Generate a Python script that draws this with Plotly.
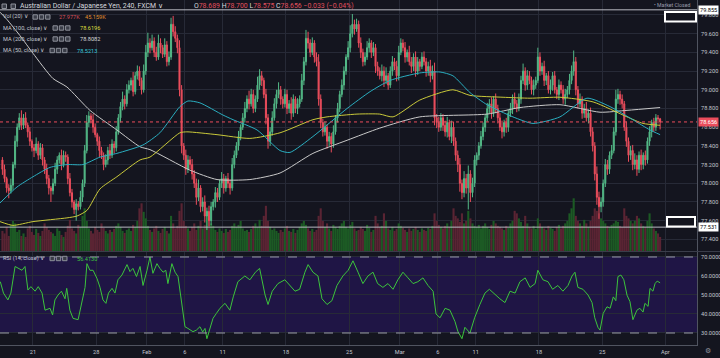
import plotly.graph_objects as go

# ---------------- data ----------------
CLOSE = [
 78.15, 78.05, 77.95, 77.92, 77.98, 78.20, 78.45, 78.60, 78.70, 78.62,
 78.70, 78.62, 78.55, 78.45, 78.38, 78.35, 78.42, 78.30, 78.38, 78.25,
 78.15, 78.05, 77.95, 77.92, 78.00, 78.15, 78.25, 78.30, 78.20, 78.30,
 78.28, 78.05, 77.90, 77.80, 77.72, 77.78, 77.75, 77.85, 78.00, 78.35,
 78.65, 78.72, 78.68, 78.60, 78.52, 78.45, 78.35, 78.30, 78.20, 78.25,
 78.35, 78.30, 78.42, 78.38, 78.55, 78.70, 78.82, 78.90, 78.85, 79.00,
 79.05, 79.10, 78.98, 79.15, 79.20, 79.10, 79.00, 79.20, 79.40, 79.50,
 79.45, 79.52, 79.40, 79.35, 79.50, 79.45, 79.38, 79.48, 79.30, 79.35,
 79.70, 79.62, 79.55, 79.45, 79.00, 78.40, 78.30, 78.15, 78.25, 78.20,
 78.10, 78.00, 77.85, 77.95, 77.75, 77.80, 77.65, 77.70, 77.60, 77.75,
 77.80, 77.90, 77.85, 78.00, 78.05, 77.95, 78.05, 78.00, 77.95, 78.20,
 78.30, 78.40, 78.50, 78.60, 78.70, 78.80, 78.90, 78.85, 78.95, 78.80,
 78.90, 79.05, 79.15, 79.10, 78.95, 78.70, 78.45, 78.55, 78.70, 78.85,
 78.95, 79.00, 78.90, 78.85, 78.95, 78.80, 78.85, 78.75, 78.90, 78.80,
 78.85, 78.90, 79.10, 79.30, 79.55, 79.50, 79.40, 79.50, 79.35, 79.30,
 78.90, 78.65, 78.55, 78.60, 78.45, 78.50, 78.42, 78.55, 78.70, 78.80,
 78.95, 79.05, 79.20, 79.35, 79.45, 79.60, 79.70, 79.65, 79.70, 79.50,
 79.40, 79.30, 79.35, 79.45, 79.50, 79.40, 79.45, 79.25, 79.20, 79.15,
 79.20, 79.10, 79.15, 79.05, 79.20, 79.30, 79.25, 79.15, 79.40, 79.50,
 79.45, 79.35, 79.40, 79.30, 79.25, 79.35, 79.20, 79.30, 79.25, 79.35,
 79.30, 79.20, 79.25, 79.15, 79.20, 78.70, 78.65, 78.60, 78.70, 78.62,
 78.55, 78.65, 78.50, 78.60, 78.45, 78.30, 78.20, 78.00, 77.90, 78.05,
 77.95, 78.10, 77.90, 78.00, 78.25, 78.30, 78.40, 78.50, 78.60, 78.70,
 78.80, 78.85, 78.75, 78.90, 78.80, 78.70, 78.60, 78.55, 78.65, 78.60,
 78.75, 78.80, 78.90, 78.85, 78.80, 78.90, 79.10, 79.20, 79.05, 79.15,
 79.10, 79.00, 79.05, 79.10, 79.35, 79.20, 79.25, 79.10, 79.15, 79.00,
 79.05, 79.15, 79.00, 78.95, 79.05, 79.00, 78.90, 78.95, 79.00, 79.10,
 79.20, 79.30, 79.00, 78.85, 78.90, 78.75, 78.80, 78.70, 78.75, 78.55,
 78.40, 78.10, 77.85, 77.75, 77.80, 78.00, 78.20, 78.15, 78.30, 78.35,
 78.55, 78.90, 78.95, 78.90, 78.85, 78.60, 78.45, 78.30, 78.35, 78.20,
 78.25, 78.15, 78.30, 78.20, 78.30, 78.25, 78.45, 78.55, 78.65, 78.60,
 78.70, 78.689, 78.656]
FIRST_OPEN = 78.25

WICK_UP = [  # hundredths of a yen above the body
 3,5,2,4,7,3,6,4,5,8, 4,6,3,5,2,4,7,3,5,4, 3,6,4,2,5,7,4,3,6,5, 4,3,6,4,2,5,3,7,4,6,
 8,5,3,6,4,2,5,4,3,6, 4,7,5,3,6,4,5,8,4,6, 5,3,9,4,6,5,3,7,8,11, 5,7,4,6,9,5,3,7,4,6,
 7,9,6,4,8,5,3,6,5,4, 6,4,5,9,3,5,7,4,6,5, 3,6,5,4,7,5,3,6,4,7, 5,4,6,3,5,7,4,9,6,5,
 4,9,7,5,3,6,4,5,7,6, 5,8,4,3,6,5,4,7,5,3, 6,4,7,5,9,7,4,6,3,5, 8,5,4,6,3,5,4,7,3,6,
 4,6,5,3,7,9,11,5,6,4, 6,4,5,7,5,3,6,4,5,4, 7,5,9,3,5,6,4,6,7,5, 4,6,3,7,5,4,6,5,3,5,
 6,4,5,7,6,9,4,6,5,4, 5,6,3,7,6,4,5,7,4,8, 5,9,4,6,5,3,4,6,5,4, 6,5,7,3,6,4,5,7,3,5,
 4,6,5,7,4,6,5,8,4,6, 5,4,6,4,10,5,4,6,3,5, 6,4,5,3,6,4,5,6,4,7, 6,12,5,4,6,3,5,7,4,6,
 5,4,8,6,5,4,6,5,4,6, 5,10,6,4,5,3,6,4,5,6, 7,5,4,6,3,5,4,6,3,5, 4,3,1]
WICK_DOWN = [  # hundredths of a yen below the body
 6,4,5,8,3,5,4,6,3,5, 4,3,6,5,4,7,3,5,4,6, 5,6,7,12,4,3,5,4,6,3, 5,6,4,6,5,12,4,3,5,4,
 3,5,4,6,3,5,7,4,6,3, 5,4,3,6,4,3,5,4,6,3, 4,6,5,3,4,6,5,3,4,5, 6,3,5,4,3,6,4,3,5,4,
 3,5,4,6,7,8,5,6,4,5, 6,5,8,4,6,5,7,15,6,5, 4,6,5,3,5,6,4,5,7,3, 4,3,5,4,3,5,4,6,3,5,
 4,3,5,6,4,7,8,5,4,3, 5,4,6,5,4,6,5,7,4,5, 6,4,3,5,4,6,5,3,6,5, 7,6,5,4,8,5,9,4,3,5,
 4,3,5,4,3,5,4,6,3,5, 6,5,4,3,5,6,4,7,5,4, 6,7,4,5,3,5,4,6,5,3, 4,6,5,4,7,5,6,4,5,3,
 4,6,5,7,4,8,6,5,4,6, 5,6,4,7,5,6,8,9,7,5, 6,23,10,5,4,6,5,3,4,5, 4,5,6,4,5,6,4,7,5,6,
 5,4,6,5,4,3,5,4,6,5, 4,5,6,4,3,5,4,6,5,4, 5,6,4,5,6,4,5,6,4,5, 4,5,6,5,4,6,5,4,6,5,
 6,7,8,13,6,5,4,6,5,4, 3,4,5,6,5,4,6,7,5,6, 5,7,4,6,5,6,4,5,6,5, 4,5,8]

VOLUME_K = [
 40,35,48,30,52,60,55,38,42,30, 35,28,45,50,38,32,44,36,30,40, 55,48,42,38,35,30,45,40,32,28,
 38,50,62,45,40,35,52,48,70,85, 60,45,40,35,48,42,38,55,46,40, 35,42,38,44,50,55,48,40,36,42,
 45,40,52,48,60,85,95,78,65,50, 42,38,45,50,40,36,44,48,40,35, 70,55,45,50,80,95,60,50,45,40,
 48,55,42,50,60,45,52,80,65,55, 50,42,38,45,40,36,44,38,42,50, 55,48,52,60,45,40,42,38,44,50,
 55,48,62,50,70,90,60,48,42,45, 40,36,42,38,45,50,40,38,44,36, 42,48,55,60,52,45,40,44,38,42,
 70,85,60,48,55,45,40,52,48,44, 50,55,60,48,45,52,58,45,40,42, 48,44,40,52,46,38,42,70,55,48,
 50,75,60,45,42,48,40,44,55,50, 46,42,38,45,40,44,48,42,38,45, 42,40,46,44,50,75,60,52,48,45,
 50,55,48,60,85,70,65,58,75,55, 60,80,65,55,50,48,52,45,50,55, 48,44,52,60,55,50,48,45,42,50,
 46,55,60,80,75,65,58,50,70,55, 48,45,50,44,65,55,48,45,42,50, 46,44,40,48,52,45,50,55,60,75,
 85,105,70,60,55,50,62,55,48,60, 70,85,80,75,65,60,55,50,48,52, 55,60,58,50,48,85,70,65,60,55,
 60,70,65,55,50,48,60,75,55,45, 40,35,28]

# moving averages, (bar index, value)
MA200_PTS = [(-1.15,79.83),(2.2,79.75),(8.3,79.58),(14.5,79.39),(24,79.12),(30.6,79.03),(41.5,78.78),
             (54.3,78.57),(65.3,78.39),(70,78.36),(89,78.14),(101.8,78.04),(117.4,78.04),(131.7,78.11),
             (147.3,78.32),(163.5,78.46),(179,78.59),(198,78.71),(229.9,78.74),(245.5,78.81),
             (264.5,78.84),(283.5,78.76),(296.3,78.78),(312,78.81)]
MA100_PTS = [(-1.15,77.59),(5,77.55),(14.5,77.59),(30.6,77.63),(35.4,77.65),(40.1,77.71),(46.3,77.94),
             (54.3,78.07),(65.3,78.25),(70,78.28),(84.2,78.54),(87.5,78.55),(101.8,78.52),(117.4,78.48),
             (131.7,78.54),(147.3,78.68),(154,78.71),(168.2,78.74),(179,78.74),(185.3,78.71),(198,78.89),
             (213.7,79.0),(221.8,78.94),(237.5,78.92),(250.3,78.91),(264.5,78.92),(280.2,78.87),
             (296.3,78.71),(303.9,78.64),(312,78.62)]
MA50_PTS = [(-1.15,77.79),(6.9,77.96),(14.5,78.07),(22.6,78.17),(30.6,78.2),(38.2,78.2),(46.3,78.28),
            (54.3,78.32),(66.7,78.41),(74.7,78.54),(84.2,78.82),(88,78.88),(93.7,78.86),(104.6,78.73),
            (109.4,78.68),(120.8,78.57),(131.7,78.35),(136.4,78.33),(147.3,78.5),(163.5,78.8),
            (174.4,78.98),(183.9,79.1),(198,79.18),(207.6,79.19),(213.7,79.15),(221.8,78.97),
            (229.9,78.84),(242.2,78.71),(251.7,78.64),(264.5,78.71),(277.3,78.91),(288.2,78.82),
            (299.1,78.68),(307.2,78.57),(312,78.52)]

RSI_PTS = [(-1,57),(0.5,51),(2.6,47.4),(4,51),(6,65),(7.5,64),(9.3,63),(10.7,65),(12.1,52.6),(13.5,54.4),
 (15.5,52),(17,54.4),(18.8,51),(20.2,42),(22.6,43),(23.8,39.5),(24.9,47.4),(26.4,50),(28,52),(29.7,48),
 (30.5,53.5),(32,42),(33.5,37.7),(35.9,37),(37.7,45.6),(39.2,54),(40.1,66.5),(41.5,63),(43,63),(44.9,58.6),
 (46.3,54),(47.7,47.4),(49.1,45.6),(50.3,51),(52,53.5),(53.4,51),(54.8,58),(56.7,60.5),(59.1,66),(60.5,62.3),
 (61.9,64),(63.6,59.7),(65.3,65),(66.7,55),(68.6,63),(70,70),(71.4,61.4),(73.3,66.5),(74.7,64),(76.2,62),
 (77.5,63),(78.5,56),(80.4,66.5),(81.9,62),(83.3,59.7),(85.2,45.6),(86.6,33.3),(88,32.4),(90.4,30.7),(92,31.5),
 (93.7,33.3),(95,30.5),(96.1,32.4),(97,27),(98.5,32.4),(99.9,37.7),(101.5,40.3),(103.2,43),(105.6,45.6),
 (107.9,42),(109.5,49),(111.7,57),(115,60),(117.4,58),(120,62),(122,64),(124.6,50),(126,45),(128,52),
 (130.7,56),(134,58),(136.4,55),(138.8,52),(141,53),(143.5,62),(145,66),(147.3,62),(149.7,60),(151.6,48),
 (154,45),(156.3,47),(158.7,55),(161.5,60),(164,63),(166.3,68),(168.7,62),(171,56),(173.4,60),(175.8,62),
 (178,56),(180.5,54),(182.9,56),(185.3,53),(187.6,58),(190,62),(192.4,59),(194.8,56),(197.1,57),(199.5,59),
 (201.9,55),(204.3,52),(205.7,40),(207.6,38),(210,43),(212.3,42),(214.7,36),(216,31),(218,27),(219.4,33),
 (221.8,30),(224,38),(226.5,45),(228.9,51),(231,53),(233.7,50),(236,48),(238.4,46),(240.8,52),(243.2,51),
 (245.5,57),(248,59),(250.3,54),(252.7,56),(254,63),(256.4,58),(258.8,57),(261,53),(263.5,55),(265.9,52),
 (268.3,55),(270.2,60),(271.6,62),(273,54),(275.4,53),(277.8,50),(279.7,46),(281,38),(282.5,33),(283.5,31.5),
 (285,40.3),(286.8,43.8),(288.3,43),(289.8,49),(291,47),(292,59.7),(293.4,60.5),(294.8,58),(296.3,49.9),
 (297.7,46.5),(299.1,37),(301,42),(302.4,43),(303.9,41),(304.8,45.6),(306.3,44),(307.2,53.5),(308.6,52),
 (309.6,56),(310.6,57.3),(311.6,56.4),(312,56.4)]

TICK_BARS = [14.5, 44.5, 68.5, 86.5, 104.5, 134.5, 164.5, 188.5, 206.5, 224.5, 254.5, 284.5, 314.5]
TICK_LABELS = ["21", "28", "Feb", "6", "11", "18", "25", "Mar", "6", "11", "18", "25", "Apr"]
PRICE_TICKS = [77.4, 77.6, 77.8, 78.0, 78.2, 78.4, 78.6, 78.8, 79.0, 79.2, 79.4, 79.6, 79.8]
RSI_TICKS = [30, 40, 50, 60, 70]
LAST_PRICE = 78.656
HLINE_TOP = 79.855
HLINE_BOTTOM = 77.531

assert len(CLOSE) == len(WICK_UP) == len(WICK_DOWN) == len(VOLUME_K), (len(CLOSE), len(WICK_UP), len(WICK_DOWN), len(VOLUME_K))

# ---------------- derived OHLC ----------------
n = len(CLOSE)
bars = list(range(n))
OPEN = [FIRST_OPEN] + CLOSE[:-1]
HIGH = [max(o, c) + u / 100 for o, c, u in zip(OPEN, CLOSE, WICK_UP)]
LOW = [min(o, c) - d / 100 for o, c, d in zip(OPEN, CLOSE, WICK_DOWN)]

# ---------------- style ----------------
BG = "#14151f"
GRID = "#272a37"
TXT = "#c3c6ce"
GREEN = "#53b987"
RED = "#eb4d5c"
VGREEN = "#1c5a24"
VRED = "#5a2433"
YEL = "#c9c93a"
WHT = "#c9c9c9"
CYAN = "#2aaec0"
PURPLE = "#1f1545"
FONT = "Roboto"
AX = 5.6     # axis label size
LG = 5.6     # legend text size

W_PLOT, H_PLOT = 697.0, 345.0
def px(x):
    return x / W_PLOT
def py(y):
    return (H_PLOT - y) / H_PLOT

fig = go.Figure()

vol_colors = [VGREEN if c >= o else VRED for o, c in zip(OPEN, CLOSE)]
fig.add_trace(go.Bar(x=bars, y=VOLUME_K, marker=dict(color=vol_colors, line=dict(width=0)),
                     width=1.0, xaxis="x", yaxis="y", hoverinfo="skip"))

fig.add_trace(go.Candlestick(x=bars, open=OPEN, high=HIGH, low=LOW, close=CLOSE,
                             increasing=dict(line=dict(color=GREEN, width=1), fillcolor=GREEN),
                             decreasing=dict(line=dict(color=RED, width=1), fillcolor=RED),
                             whiskerwidth=0, xaxis="x", yaxis="y3", hoverinfo="skip"))

for pts, col in [(MA200_PTS, WHT), (MA100_PTS, YEL), (MA50_PTS, CYAN)]:
    fig.add_trace(go.Scatter(x=[p[0] for p in pts], y=[p[1] for p in pts], mode="lines",
                             line=dict(color=col, width=1, shape="spline", smoothing=0.6),
                             xaxis="x", yaxis="y3", hoverinfo="skip"))

fig.add_trace(go.Scatter(x=[p[0] for p in RSI_PTS], y=[p[1] for p in RSI_PTS], mode="lines",
                         line=dict(color="#3cc43c", width=1), xaxis="x2", yaxis="y2", hoverinfo="skip"))

XR = [-1.15, 329.5]
MAIN_DOM = [0.2725, 1.0]
RSI_DOM = [0.0, 0.2696]

fig.update_layout(
    width=720, height=358, margin=dict(l=0, r=23, t=0, b=13),
    paper_bgcolor=BG, plot_bgcolor=BG, showlegend=False, hovermode=False,
    font=dict(family=FONT, size=7, color=TXT),
    xaxis=dict(domain=[0, 1], range=XR, anchor="y", tickvals=TICK_BARS, showticklabels=False,
               showgrid=True, gridcolor=GRID, gridwidth=1, zeroline=False, rangeslider=dict(visible=False),
               ticks=""),
    yaxis=dict(domain=MAIN_DOM, range=[0, 500], visible=False, showgrid=False, zeroline=False),
    yaxis3=dict(overlaying="y", anchor="x", side="right", range=[77.276, 79.96], tickvals=PRICE_TICKS,
                ticktext=["%.3f" % v for v in PRICE_TICKS], showgrid=True, gridcolor=GRID, zeroline=False,
                showline=True, linecolor="#505460", ticks="", ticklabelstandoff=2,
                tickfont=dict(size=AX, color=TXT)),
    xaxis2=dict(domain=[0, 1], range=XR, anchor="y2", tickvals=TICK_BARS, ticktext=TICK_LABELS,
                showgrid=True, gridcolor=GRID, zeroline=False, showline=True, linecolor="#505460",
                ticks="", ticklabelstandoff=1, tickfont=dict(size=AX, color=TXT)),
    yaxis2=dict(domain=RSI_DOM, range=[23.68, 72.63], side="right", tickvals=RSI_TICKS,
                ticktext=["%.4f" % v for v in RSI_TICKS], showgrid=True, gridcolor=GRID, zeroline=False,
                showline=True, linecolor="#505460", ticks="", ticklabelstandoff=2,
                tickfont=dict(size=AX, color=TXT)),
)

shapes = []
# RSI band and 30/70 dashed lines
shapes.append(dict(type="rect", xref="x2", yref="y2", x0=XR[0], x1=XR[1], y0=30, y1=70,
                   fillcolor=PURPLE, line=dict(width=0), layer="below"))
for lv in (30, 70):
    shapes.append(dict(type="line", xref="x2", yref="y2", x0=XR[0], x1=XR[1], y0=lv, y1=lv,
                       line=dict(color="#9a9cab", width=1, dash="dash")))
# pane separator
shapes.append(dict(type="line", xref="paper", yref="paper", x0=0, x1=720 / W_PLOT, y0=py(251.5), y1=py(251.5),
                   line=dict(color="#3a3d4a", width=1)))
# horizontal lines
shapes.append(dict(type="line", xref="x", yref="y3", x0=XR[0], x1=XR[1], y0=LAST_PRICE, y1=LAST_PRICE,
                   line=dict(color=RED, width=1, dash="dot")))
for lv in (HLINE_TOP, HLINE_BOTTOM):
    shapes.append(dict(type="line", xref="x", yref="y3", x0=XR[0], x1=XR[1], y0=lv, y1=lv,
                       line=dict(color="#b8bac2", width=1)))
# drawn boxes near right edge
for (x0, y0, x1, y1) in [(665, 12, 696, 21.5), (667, 217, 695, 226.5)]:
    shapes.append(dict(type="rect", xref="paper", yref="paper", x0=px(x0), x1=px(x1), y0=py(y1), y1=py(y0),
                       line=dict(color="#ffffff", width=2), fillcolor=BG))

# small legend icons
def icons(x_start, y_c, step=6.3, n_ic=3, size=4.4):
    out = []
    for k in range(n_ic):
        x0 = x_start + k * step
        out.append(dict(type="rect", xref="paper", yref="paper", x0=px(x0), x1=px(x0 + size),
                        y0=py(y_c + size / 2), y1=py(y_c - size / 2),
                        line=dict(color="#8d909a", width=1), fillcolor="#3a3d48"))
    return out
shapes += icons(33, 17)
shapes += icons(53, 28)
shapes += icons(53, 39)
shapes += icons(50, 50.5)
shapes += icons(50, 258.5)
# header symbol icons
shapes.append(dict(type="rect", xref="paper", yref="paper", x0=px(2), x1=px(6.5), y0=py(8.5), y1=py(4),
                   line=dict(color="#8d909a", width=1), fillcolor="#3a3d48"))
shapes.append(dict(type="rect", xref="paper", yref="paper", x0=px(11), x1=px(15.5), y0=py(8.5), y1=py(4),
                   line=dict(color="#8d909a", width=1), fillcolor="#3a3d48"))
fig.update_layout(shapes=shapes)

ann = []
def txt(x, y, s, color=TXT, size=LG, xanchor="left", **kw):
    ann.append(dict(xref="paper", yref="paper", x=px(x), y=py(y), text=s, showarrow=False,
                    xanchor=xanchor, yanchor="middle", font=dict(family=FONT, size=size, color=color), **kw))

txt(18, 6, "Australian Dollar / Japanese Yen, 240, FXCM ∨", color="#d6d8de", size=6.9)
R = "#e0505e"
txt(192, 6, ("O<span style='color:%s'>78.689</span> H<span style='color:%s'>78.700</span> "
             "L<span style='color:%s'>78.575</span> C<span style='color:%s'>78.656</span> "
             "<span style='color:%s'>−0.033 (−0.04%%)</span>") % (R, R, R, R, R), color="#d6d8de", size=6.9)
txt(1, 17, "Vol (20) ∨")
txt(57, 17, "27.977K", color="#d8505a")
txt(83, 17, "45.159K", color="#e0902e")
txt(1, 28, "MA (100, close) ∨")
txt(78, 28, "78.6196", color="#dede3c")
txt(1, 39, "MA (200, close) ∨")
txt(78, 39, "78.8082", color="#d8d8d8")
txt(1, 50.5, "MA (50, close) ∨")
txt(75, 50.5, "78.5213", color="#36c6d8")
txt(1, 258.5, "RSI (14, close) ∨")
txt(75, 258.5, "56.4130", color="#3cc43c")
txt(692, 5, "• Market Closed", color="#9a9dab", size=5.2, xanchor="right")
txt(708, 351, "⚙", color="#8d909a", size=7, xanchor="center")

# price labels on the axis
for val, bg, fg in [(HLINE_TOP, "#ffffff", "#000000"), (LAST_PRICE, RED, "#ffffff"),
                    (HLINE_BOTTOM, "#ffffff", "#000000")]:
    ann.append(dict(xref="paper", yref="y3", x=px(698), y=val, text="%.3f" % val, showarrow=False,
                    xanchor="left", yanchor="middle", bgcolor=bg, borderpad=1,
                    font=dict(family=FONT, size=AX, color=fg)))
fig.update_layout(annotations=ann)

# remove the browser's default page margin so the 720x358 figure sits at the window origin
fig.write_html("out.html", config={"displayModeBar": False, "staticPlot": True},
               post_script="document.body.style.margin='0px';document.body.style.background='%s';" % BG)
